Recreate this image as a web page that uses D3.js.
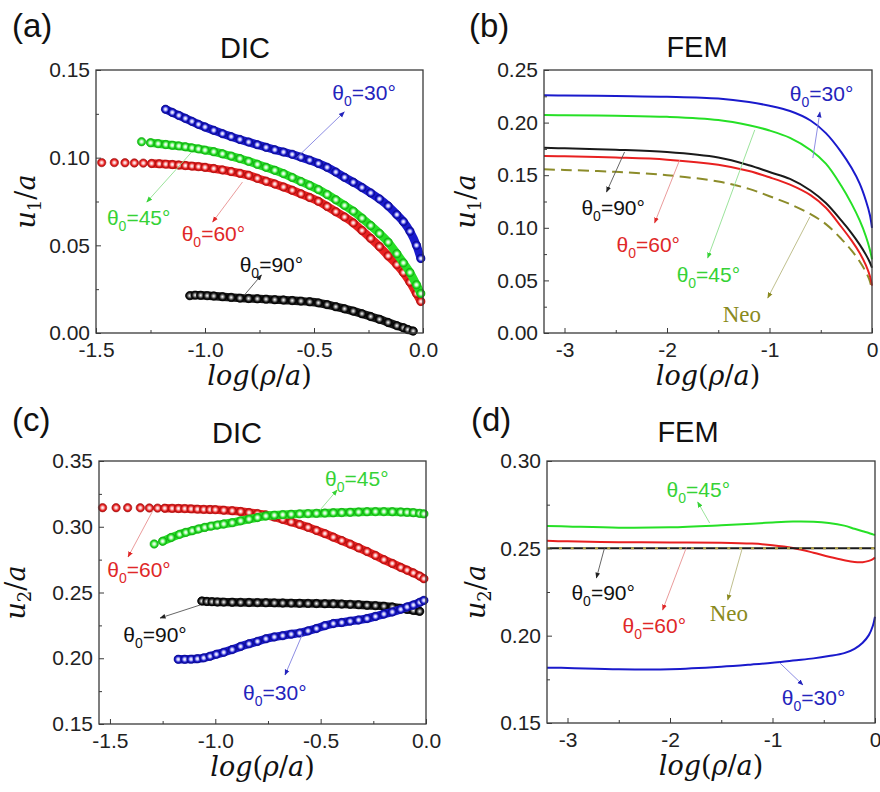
<!DOCTYPE html>
<html>
<head>
<meta charset="utf-8">
<title>u1/a and u2/a versus log(rho/a): DIC and FEM</title>
<script src="https://cdnjs.cloudflare.com/ajax/libs/d3/7.8.5/d3.min.js"></script>
<style>
body { margin: 0; background: #fff; }
</style>
</head>
<body>
<svg id="fig" width="880" height="792" font-family="Arial, 'Liberation Sans', sans-serif"></svg>
<script>
// ---- DIC data, panel (a): u1/a, pairs of [log(rho/a), u1/a] ----
var dicA_black = [[-1.07,.0213],[-1.045,.0216],[-1.02,.0215],[-0.99,.0213],[-0.96,.0211],[-0.92,.0207],[-0.88,.0203],[-0.84,.0199],[-0.80,.0197],[-0.76,.0195],[-0.72,.0193],[-0.68,.0190],[-0.64,.0188],[-0.60,.0185],[-0.56,.0182],[-0.52,.0178],[-0.48,.0172],[-0.44,.0162],[-0.40,.0150],[-0.36,.0138],[-0.32,.0125],[-0.28,.0110],[-0.24,.0094],[-0.20,.0078],[-0.16,.0060],[-0.12,.0042],[-0.09,.0030],[-0.07,.0020],[-0.045,.0011]];
var dicA_red = [[-1.474,.0972],[-1.416,.0972],[-1.367,.0971],[-1.324,.0970],[-1.283,.0969],[-1.245,.0967],[-1.21,.0965],[-1.18,.0963],[-1.15,.0961],[-1.12,.0958],[-1.09,.0955],[-1.06,.0952],[-1.03,.0949],[-1.0,.0945],[-0.96,.0938],[-0.92,.0930],[-0.88,.0921],[-0.84,.0911],[-0.80,.0900],[-0.76,.0882],[-0.72,.0866],[-0.68,.0850],[-0.64,.0833],[-0.60,.0814],[-0.56,.0794],[-0.52,.0773],[-0.48,.0751],[-0.44,.0722],[-0.40,.0692],[-0.36,.0662],[-0.32,.0628],[-0.28,.0585],[-0.24,.0540],[-0.20,.0493],[-0.16,.0440],[-0.12,.0390],[-0.09,.0345],[-0.06,.0290],[-0.03,.0225],[-0.01,.0180]];
var dicA_green = [[-1.291,.1091],[-1.25,.1085],[-1.215,.1080],[-1.18,.1075],[-1.15,.1071],[-1.12,.1067],[-1.09,.1062],[-1.06,.1056],[-1.03,.1050],[-1.0,.1043],[-0.96,.1034],[-0.92,.1022],[-0.88,.1009],[-0.84,.0995],[-0.80,.0979],[-0.76,.0962],[-0.72,.0945],[-0.68,.0928],[-0.64,.0909],[-0.60,.0887],[-0.56,.0864],[-0.52,.0842],[-0.48,.0818],[-0.44,.0790],[-0.40,.0760],[-0.36,.0728],[-0.32,.0695],[-0.28,.0655],[-0.24,.0613],[-0.20,.0568],[-0.16,.0518],[-0.12,.0452],[-0.09,.0400],[-0.06,.0345],[-0.03,.0275],[-0.01,.0225]];
var dicA_blue = [[-1.181,.1276],[-1.15,.1258],[-1.12,.1241],[-1.09,.1224],[-1.06,.1207],[-1.03,.1190],[-1.0,.1175],[-0.96,.1156],[-0.92,.1137],[-0.88,.1120],[-0.84,.1104],[-0.80,.1089],[-0.76,.1074],[-0.72,.1059],[-0.68,.1045],[-0.64,.1032],[-0.60,.1019],[-0.56,.1003],[-0.52,.0986],[-0.48,.0967],[-0.44,.0945],[-0.40,.0918],[-0.36,.0888],[-0.32,.0860],[-0.28,.0830],[-0.24,.0799],[-0.20,.0765],[-0.16,.0725],[-0.12,.0675],[-0.09,.0635],[-0.06,.0580],[-0.03,.0500],[-0.01,.0425]];

// ---- DIC data, panel (c): u2/a ----
var dicC_red = [[-1.535,.3145],[-1.471,.3145],[-1.416,.3145],[-1.356,.3144],[-1.313,.3143],[-1.274,.3142],[-1.24,.3141],[-1.205,.3140],[-1.175,.3139],[-1.145,.3138],[-1.115,.3136],[-1.085,.3134],[-1.055,.3132],[-1.025,.3131],[-1.0,.3130],[-0.96,.3126],[-0.92,.3122],[-0.88,.3116],[-0.84,.3108],[-0.80,.3100],[-0.76,.3090],[-0.72,.3074],[-0.68,.3056],[-0.64,.3037],[-0.60,.3018],[-0.56,.2996],[-0.52,.2972],[-0.48,.2948],[-0.44,.2921],[-0.40,.2895],[-0.36,.2868],[-0.32,.2840],[-0.28,.2812],[-0.24,.2782],[-0.20,.2750],[-0.16,.2721],[-0.12,.2691],[-0.09,.2670],[-0.06,.2649],[-0.03,.2625],[-0.01,.2605]];
var dicC_green = [[-1.29,.2869],[-1.25,.2890],[-1.21,.2918],[-1.17,.2942],[-1.14,.2957],[-1.11,.2970],[-1.08,.2983],[-1.05,.2995],[-1.02,.3005],[-0.99,.3013],[-0.96,.3021],[-0.92,.3031],[-0.88,.3045],[-0.84,.3058],[-0.80,.3070],[-0.76,.3082],[-0.72,.3088],[-0.68,.3092],[-0.64,.3095],[-0.60,.3098],[-0.56,.3100],[-0.52,.3102],[-0.48,.3104],[-0.44,.3106],[-0.40,.3108],[-0.36,.3110],[-0.32,.3112],[-0.28,.3114],[-0.24,.3115],[-0.20,.3115],[-0.16,.3114],[-0.12,.3112],[-0.09,.3110],[-0.06,.3107],[-0.03,.3102],[-0.01,.3098]];
var dicC_black = [[-1.064,.2435],[-1.04,.2432],[-1.016,.2430],[-0.99,.2428],[-0.96,.2427],[-0.92,.2426],[-0.88,.2425],[-0.84,.2424],[-0.80,.2423],[-0.76,.2422],[-0.72,.2421],[-0.68,.2420],[-0.64,.2419],[-0.60,.2418],[-0.56,.2417],[-0.52,.2416],[-0.48,.2415],[-0.44,.2414],[-0.40,.2412],[-0.36,.2410],[-0.32,.2407],[-0.28,.2403],[-0.24,.2400],[-0.20,.2396],[-0.16,.2390],[-0.12,.2380],[-0.09,.2372],[-0.06,.2364],[-0.03,.2357]];
var dicC_blue = [[-1.176,.1992],[-1.145,.1992],[-1.115,.1993],[-1.085,.1996],[-1.055,.2003],[-1.025,.2015],[-0.995,.2030],[-0.96,.2045],[-0.92,.2066],[-0.88,.2090],[-0.84,.2110],[-0.80,.2128],[-0.76,.2148],[-0.72,.2162],[-0.68,.2172],[-0.64,.2183],[-0.60,.2192],[-0.56,.2208],[-0.52,.2226],[-0.48,.2248],[-0.44,.2264],[-0.40,.2272],[-0.36,.2282],[-0.32,.2291],[-0.28,.2302],[-0.24,.2318],[-0.20,.2336],[-0.16,.2352],[-0.12,.2372],[-0.09,.2390],[-0.06,.2405],[-0.03,.2425],[-0.01,.2440]];

// ---- FEM data, log(rho/a) samples shared by all curves ----
var femX = [-3.2, -3.0, -2.5, -2.0, -1.5, -1.2, -1.0, -0.8, -0.6, -0.45, -0.3, -0.2, -0.12, -0.06, -0.02, 0];
// panel (b): u1/a
var femB_blue  = [.2260, .2258, .2252, .2245, .2228, .2195, .2160, .2110, .2020, .1900, .1720, .1570, .1420, .1260, .1120, .1000];
var femB_green = [.2072, .2070, .2065, .2055, .2025, .1975, .1925, .1855, .1740, .1610, .1400, .1230, .1070, .0920, .0790, .0700];
var femB_black = [.1760, .1755, .1742, .1720, .1668, .1595, .1530, .1465, .1355, .1235, .1070, .0950, .0840, .0745, .0670, .0620];
var femB_red   = [.1683, .1680, .1668, .1648, .1600, .1540, .1480, .1410, .1310, .1190, .1010, .0880, .0760, .0645, .0540, .0450];
var femB_neo   = [.1556, .1550, .1532, .1500, .1440, .1370, .1300, .1225, .1130, .1035, .0895, .0785, .0680, .0580, .0490, .0400];
// panel (d): u2/a
var femD_green = [.2628, .2625, .2618, .2620, .2632, .2641, .2648, .2653, .2652, .2645, .2630, .2612, .2598, .2588, .2580, .2576];
var femD_red   = [.2544, .2540, .2535, .2534, .2532, .2527, .2518, .2502, .2475, .2452, .2432, .2422, .2421, .2428, .2438, .2447];
var femD_black = [.2500, .2500, .2500, .2500, .2500, .2500, .2500, .2500, .2500, .2500, .2500, .2500, .2500, .2500, .2500, .2500];
var femD_neo   = [.2500, .2500, .2500, .2500, .2500, .2500, .2500, .2500, .2500, .2500, .2500, .2500, .2500, .2500, .2500, .2500];
var femD_blue  = [.1817, .1815, .1808, .1808, .1822, .1835, .1845, .1858, .1870, .1883, .1900, .1925, .1960, .2003, .2058, .2108];

// ---- ticks ----
var ticksDicX = [-1.5, -1.0, -0.5, 0.0];
var ticksFemX = [-3, -2, -1, 0];
var ticksU1Dic = [0, 0.05, 0.10, 0.15];
var ticksU1Fem = [0, 0.05, 0.10, 0.15, 0.20, 0.25];
var ticksU2Dic = [0.15, 0.20, 0.25, 0.30, 0.35];
var ticksU2Fem = [0.15, 0.20, 0.25, 0.30];

// ---- colours ----
var col = {
  blue:  {base: "#1a1acc", dark: "#0c0c8c", light: "#c4c4fa", text: "#2424bc", arrow: "#8080e0"},
  green: {base: "#26e026", dark: "#14a814", light: "#c8fac8", text: "#36d236", arrow: "#90e090"},
  red:   {base: "#e82020", dark: "#a81010", light: "#fac0c0", text: "#e02828", arrow: "#e89090"},
  black: {base: "#1a1a1a", dark: "#000000", light: "#a0a0a0", text: "#111111", arrow: "#555555"},
  neo:   {base: "#8c8c2a", dark: "#6c6c1c", light: "#d0d080", text: "#8a8a20", arrow: "#b8b880"}
};

var SERIF = "'DejaVu Serif', serif";
var TIMES = "'Liberation Serif', 'Times New Roman', serif";

var panels = [
  {tag: "(a)", tagX: 12, tagY: 37, title: "DIC", titleX: 245, titleY: 58, box: [96, 70, 423, 333],
   xd: [-1.5, 0], yd: [0, 0.15], xt: ticksDicX, xm: 0.25, xf: function(d) { return d.toFixed(1); },
   yt: ticksU1Dic, ylabX: 35, sub: "1", kind: "dic",
   series: [["black", dicA_black], ["red", dicA_red], ["green", dicA_green], ["blue", dicA_blue]]},
  {tag: "(b)", tagX: 469, tagY: 37, title: "FEM", titleX: 697, titleY: 57, box: [544, 70, 872, 333],
   xd: [-3.2, 0], yd: [0, 0.25], xt: ticksFemX, xm: 0.5, xf: function(d) { return String(d); },
   yt: ticksU1Fem, ylabX: 475, sub: "1", kind: "fem",
   series: [["neo", femB_neo], ["red", femB_red], ["black", femB_black], ["green", femB_green], ["blue", femB_blue]]},
  {tag: "(c)", tagX: 12, tagY: 431, title: "DIC", titleX: 237, titleY: 443, box: [99, 461, 426, 724],
   xd: [-1.552, 0], yd: [0.15, 0.35], xt: ticksDicX, xm: 0.25, xf: function(d) { return d.toFixed(1); },
   yt: ticksU2Dic, ylabX: 25, sub: "2", kind: "dic",
   series: [["red", dicC_red], ["green", dicC_green], ["black", dicC_black], ["blue", dicC_blue]]},
  {tag: "(d)", tagX: 471, tagY: 431, title: "FEM", titleX: 688, titleY: 442, box: [547, 461, 875, 723],
   xd: [-3.2, 0], yd: [0.15, 0.30], xt: ticksFemX, xm: 0.5, xf: function(d) { return String(d); },
   yt: ticksU2Fem, ylabX: 485, sub: "2", kind: "fem",
   series: [["green", femD_green], ["red", femD_red], ["blue", femD_blue], ["black", femD_black], ["neo", femD_neo]]}
];

// annotations: label anchor and arrow (from curve to label) in data units
var notes = [
  [0, "blue",  "30", [-0.416, .1329], [-0.581, .0998], [-0.361, .1261]],
  [0, "green", "45", [-1.450, .0616], [-1.061, .1032], [-1.267, .0747]],
  [0, "red",   "60", [-1.107, .0525], [-0.828, .0861], [-0.965, .0633]],
  [0, "black", "90", [-0.841, .0348], [-0.819, .0217], [-0.741, .0331]],
  [1, "blue",  "30", [-0.802, .2205], [-0.577, .1663], [-0.508, .2101]],
  [1, "black", "90", [-2.835, .1122], [-2.414, .1721], [-2.590, .1340]],
  [1, "red",   "60", [-2.493, .0770], [-1.877, .1644], [-2.121, .1046]],
  [1, "green", "45", [-1.906, .0485], [-1.144, .1930], [-1.603, .0713]],
  [1, "neo",   "Neo", [-1.457, .0105], [-0.606, .1103], [-1.017, .0333]],
  [2, "green", "45", [-0.479, .3310], [-0.503, .3127], [-0.422, .3279]],
  [2, "red",   "60", [-1.513, .2618], [-1.295, .3127], [-1.414, .2770]],
  [2, "black", "90", [-1.437, .2124], [-1.072, .2405], [-1.262, .2306]],
  [2, "blue",  "30", [-0.868, .1683], [-0.588, .2177], [-0.669, .1873]],
  [3, "green", "45", [-2.033, .2794], [-1.613, .2645], [-1.730, .2765]],
  [3, "black", "90", [-2.962, .2204], [-2.639, .2502], [-2.718, .2330]],
  [3, "red",   "60", [-2.463, .2015], [-1.838, .2508], [-2.072, .2147]],
  [3, "neo",   "Neo", [-1.613, .2084], [-1.300, .2490], [-1.437, .2204]],
  [3, "blue",  "30", [-0.909, .1603], [-0.929, .1844], [-0.704, .1718]]
];

var svg = d3.select("#fig");
svg.append("rect").attr("width", 880).attr("height", 792).attr("fill", "#fff");
var defs = svg.append("defs");

Object.keys(col).forEach(function(k) {
  var c = col[k];
  var g = defs.append("radialGradient").attr("id", "ball-" + k)
    .attr("cx", "0.5").attr("cy", "0.5").attr("r", "0.5");
  g.append("stop").attr("offset", "0").attr("stop-color", "#ffffff");
  g.append("stop").attr("offset", "0.3").attr("stop-color", c.light);
  g.append("stop").attr("offset", "0.7").attr("stop-color", c.base);
  g.append("stop").attr("offset", "1").attr("stop-color", c.dark);
  defs.append("marker").attr("id", "ah-" + k)
    .attr("viewBox", "0 0 10 10").attr("refX", 9).attr("refY", 5)
    .attr("markerWidth", 6).attr("markerHeight", 6)
    .attr("markerUnits", "userSpaceOnUse").attr("orient", "auto")
    .append("path").attr("d", "M0,1L10,5L0,9Z").attr("fill", c.dark === "#000000" ? "#222" : c.text);
});

var R = 4.2;       // DIC marker radius
var BAND_FROM = -1.25;

panels.forEach(function(p, pi) {
  var x = d3.scaleLinear().domain(p.xd).range([p.box[0], p.box[2]]);
  var y = d3.scaleLinear().domain(p.yd).range([p.box[3], p.box[1]]);
  p.x = x; p.y = y;
  var g = svg.append("g");

  // series
  if (p.kind === "fem") {
    var line = d3.line().x(function(d) { return x(d[0]); }).y(function(d) { return y(d[1]); })
      .curve(d3.curveCatmullRom.alpha(0.5));
    p.series.forEach(function(s) {
      var pts = femX.map(function(v, i) { return [v, s[1][i]]; });
      var path = g.append("path").datum(pts).attr("d", line).attr("fill", "none")
        .attr("stroke-linejoin", "round");
      if (s[0] === "neo") {
        if (pi === 3) {
          path.attr("stroke", "#b8a848").attr("stroke-width", 2).attr("stroke-dasharray", "3,9");
        } else {
          path.attr("stroke", col.neo.base).attr("stroke-width", 2).attr("stroke-dasharray", "11,6");
        }
      } else {
        path.attr("stroke", col[s[0]].base).attr("stroke-width", 2);
      }
    });
  } else {
    var bandLine = d3.line().x(function(d) { return x(d[0]); }).y(function(d) { return y(d[1]); })
      .curve(d3.curveMonotoneX);
    p.series.forEach(function(s) {
      var c = col[s[0]];
      var dense = s[1].filter(function(d) { return d[0] >= BAND_FROM; });
      g.append("path").datum(dense).attr("d", bandLine).attr("fill", "none")
        .attr("stroke", c.base).attr("stroke-width", 2 * R)
        .attr("stroke-linecap", "round").attr("stroke-linejoin", "round");
      g.selectAll(null).data(s[1]).enter().append("circle")
        .attr("cx", function(d) { return x(d[0]); })
        .attr("cy", function(d) { return y(d[1]); })
        .attr("r", R)
        .attr("fill", "url(#ball-" + s[0] + ")")
        .attr("stroke", c.dark).attr("stroke-width", 0.6);
    });
  }

  // frame
  g.append("rect").attr("x", p.box[0]).attr("y", p.box[1])
    .attr("width", p.box[2] - p.box[0]).attr("height", p.box[3] - p.box[1])
    .attr("fill", "none").attr("stroke", "#3a3a3a").attr("stroke-width", 1.3);

  // axes with inward ticks
  var xMinor = d3.range(p.xd[0] < -3 ? -3 : -1.5, 0.001, p.xm).filter(function(v) {
    return Math.abs(v / (p.xm * 2) - Math.round(v / (p.xm * 2))) > 1e-6;
  });
  var yMinor = d3.range(p.yd[0] + 0.025, p.yd[1], 0.05);

  var ax = g.append("g").attr("transform", "translate(0," + p.box[3] + ")")
    .call(d3.axisBottom(x).tickValues(p.xt).tickFormat(p.xf).tickSizeInner(-5).tickSizeOuter(0).tickPadding(9));
  g.append("g").attr("transform", "translate(0," + p.box[3] + ")")
    .call(d3.axisBottom(x).tickValues(xMinor).tickFormat("").tickSizeInner(-3).tickSizeOuter(0));
  var ay = g.append("g").attr("transform", "translate(" + p.box[0] + ",0)")
    .call(d3.axisLeft(y).tickValues(p.yt).tickFormat(function(d) { return d.toFixed(2); })
      .tickSizeInner(-5).tickSizeOuter(0).tickPadding(6));
  g.append("g").attr("transform", "translate(" + p.box[0] + ",0)")
    .call(d3.axisLeft(y).tickValues(yMinor).tickFormat("").tickSizeInner(-3).tickSizeOuter(0));
  g.selectAll(".domain").remove();
  g.selectAll(".tick line").attr("stroke", "#3a3a3a");
  [ax, ay].forEach(function(a) {
    a.attr("font-family", null).attr("font-size", null);
    a.selectAll("text").attr("font-size", 21).attr("fill", "#222");
  });

  // titles
  svg.append("text").attr("x", p.tagX).attr("y", p.tagY).attr("font-size", 33).attr("fill", "#111").text(p.tag);
  svg.append("text").attr("x", p.titleX).attr("y", p.titleY).attr("text-anchor", "middle")
    .attr("font-size", 29).attr("fill", "#111").text(p.title);

  // axis titles
  var cx = (p.box[0] + p.box[2]) / 2, cy = (p.box[1] + p.box[3]) / 2;
  var xt = svg.append("text").attr("x", cx).attr("y", p.box[3] + 52).attr("text-anchor", "middle")
    .attr("font-family", SERIF).attr("font-size", 27).attr("fill", "#111");
  [["log", 1], ["(", 0], ["\u03c1", 1], ["/", 0], ["a", 1], [")", 0]].forEach(function(t) {
    xt.append("tspan").attr("font-style", t[1] ? "italic" : "normal").text(t[0]);
  });
  var yt = svg.append("text").attr("transform", "translate(" + p.ylabX + "," + cy + ") rotate(-90)")
    .attr("text-anchor", "middle").attr("font-family", SERIF)
    .attr("font-size", 27).attr("fill", "#111");
  yt.append("tspan").attr("font-style", "italic").text("u");
  yt.append("tspan").attr("font-size", 18).attr("dy", 6).text(p.sub);
  yt.append("tspan").attr("dy", -6).text("/");
  yt.append("tspan").attr("font-style", "italic").text("a");
});

// annotations
notes.forEach(function(n) {
  var p = panels[n[0]], c = col[n[1]];
  var a = n[4], b = n[5];
  svg.append("line")
    .attr("x1", p.x(a[0])).attr("y1", p.y(a[1]))
    .attr("x2", p.x(b[0])).attr("y2", p.y(b[1]))
    .attr("stroke", c.arrow).attr("stroke-width", 0.9)
    .attr("marker-end", "url(#ah-" + n[1] + ")");
  var t = svg.append("text").attr("x", p.x(n[3][0])).attr("y", p.y(n[3][1])).attr("fill", c.text);
  if (n[2] === "Neo") {
    t.attr("font-family", TIMES).attr("font-size", 23).text("Neo");
  } else {
    t.attr("font-size", 21);
    t.append("tspan").text("\u03b8");
    t.append("tspan").attr("font-size", 14).attr("dy", 6).text("0");
    t.append("tspan").attr("dy", -6).text("=" + n[2] + "\u00b0");
  }
});
</script>
</body>
</html>
